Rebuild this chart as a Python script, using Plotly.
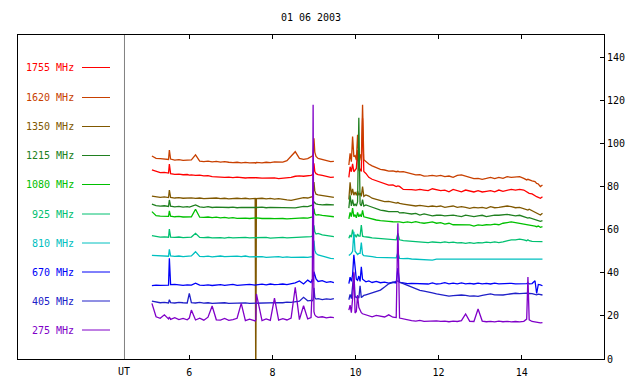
import plotly.graph_objects as go

FONT = "DejaVu Sans Mono"

title_text = "01 06 2003"
x_ticks = [6, 8, 10, 12, 14]
y_ticks = [0, 20, 40, 60, 80, 100, 120, 140]
ut_time = 4.44

labels = ["1755 MHz", "1620 MHz", "1350 MHz", "1215 MHz", "1080 MHz",
          "925 MHz", "810 MHz", "670 MHz", "405 MHz", "275 MHz"]
colors = ["#FF0000", "#C84000", "#805800", "#208020", "#00C000",
          "#00C070", "#00C0C0", "#0000F8", "#2020C8", "#8000C8"]

# time (UT hours), two observing segments
t1 = [5.10, 5.20, 5.30, 5.40, 5.50, 5.52, 5.55, 5.65, 5.75, 5.85,
      5.95, 6.00, 6.05, 6.15, 6.25, 6.35, 6.45, 6.55, 6.65, 6.75,
      6.85, 6.95, 7.05, 7.15, 7.25, 7.35, 7.45, 7.585, 7.60, 7.615,
      7.75, 7.85, 7.95, 8.05, 8.15, 8.25, 8.35, 8.45, 8.55, 8.65,
      8.75, 8.85, 8.93, 8.96, 8.98, 9.00, 9.02, 9.05, 9.10, 9.20,
      9.30, 9.40, 9.48]
t2 = [9.84, 9.87, 9.90, 9.93, 9.96, 9.99, 10.02, 10.05, 10.08, 10.11,
      10.14, 10.17, 10.20, 10.25, 10.32, 10.40, 10.50, 10.60, 10.70, 10.80,
      10.90, 10.98, 11.02, 11.06, 11.15, 11.25, 11.35, 11.45, 11.55, 11.65,
      11.75, 11.85, 11.95, 12.05, 12.15, 12.25, 12.35, 12.45, 12.55, 12.65,
      12.75, 12.85, 12.95, 13.05, 13.15, 13.25, 13.35, 13.45, 13.55, 13.65,
      13.75, 13.85, 13.95, 14.05, 14.12, 14.15, 14.18, 14.25, 14.32, 14.36,
      14.40, 14.45, 14.50]

f1755_a = [87.8, 87.0, 86.5, 86.6, 86.3, 90.5, 86.0, 85.7, 85.8, 85.5,
           85.6, 85.3, 85.4, 85.2, 85.3, 85.0, 85.1, 84.6, 84.4, 84.5,
           84.3, 84.4, 84.2, 84.4, 84.1, 84.0, 84.2, 83.9, 84.0, 84.1,
           83.9, 84.0, 83.8, 84.0, 83.7, 83.9, 83.8, 84.3, 84.8, 85.0,
           84.8, 84.9, 85.2, 85.5, 86.0, 90.8, 87.0, 86.0, 85.6, 85.2,
           84.6, 84.3, 84.4]
f1755_b = [84.3, 89.2, 86.9, 90.5, 86.9, 87.7, 88.4, 97.0, 87.5, 88.0,
           87.0, 111.7, 87.0, 86.1, 84.3, 83.4, 82.7, 81.8, 81.2, 80.7,
           80.8, 80.0, 80.3, 80.1, 78.7, 78.8, 78.6, 78.4, 78.7, 78.4,
           78.1, 79.0, 78.4, 78.1, 78.4, 77.6, 78.7, 78.1, 77.6, 78.4,
           77.8, 77.5, 78.1, 77.5, 77.8, 78.1, 77.6, 78.4, 77.8, 78.4,
           78.7, 78.4, 78.7, 78.4, 77.6, 77.2, 76.9, 76.6, 75.6, 75.3,
           75.0, 74.6, 75.3]

f1620_a = [94.2, 93.1, 93.0, 92.8, 92.6, 97.0, 92.8, 92.3, 92.5, 92.2,
           92.3, 92.1, 92.4, 94.7, 91.8, 91.6, 91.8, 91.5, 91.7, 91.4,
           91.6, 91.3, 91.1, 91.3, 91.0, 91.2, 91.0, 91.1, 90.9, 91.2,
           91.0, 91.3, 91.1, 91.5, 91.6, 91.4, 92.0, 94.2, 96.2, 93.1,
           92.6, 93.0, 93.8, 94.2, 95.0, 102.4, 96.0, 94.0, 93.1, 92.5,
           92.0, 91.6, 91.7]
f1620_b = [90.0, 95.4, 91.6, 103.2, 93.9, 94.4, 92.3, 104.0, 94.0, 95.0,
           92.0, 118.0, 92.5, 91.6, 90.5, 89.6, 88.9, 88.0, 87.7, 87.2,
           87.3, 86.9, 87.1, 86.8, 86.9, 86.5, 85.8, 85.4, 85.5, 84.9,
           85.0, 85.2, 84.9, 85.2, 84.6, 84.9, 84.3, 85.2, 85.4, 84.9,
           84.3, 83.7, 83.8, 83.4, 83.8, 84.3, 83.7, 84.3, 83.8, 84.6,
           84.3, 84.3, 84.6, 83.8, 83.1, 83.4, 83.1, 82.7, 82.3, 81.5,
           81.2, 80.0, 80.7]

f1350_a = [75.6, 75.3, 75.0, 75.2, 74.9, 78.4, 75.0, 74.7, 74.9, 74.6,
           74.8, 74.6, 74.8, 74.5, 74.7, 74.4, 74.6, 74.5, 74.7, 74.4,
           74.6, 74.3, 74.5, 74.6, 74.4, 74.6, 74.3, 74.5, -15.0, 74.4,
           74.6, 74.3, 74.5, 74.2, 74.4, 74.0, 73.8, 73.6, 74.0, 74.6,
           74.9, 74.7, 75.0, 75.3, 76.0, 82.1, 78.0, 76.5, 76.2, 75.8,
           75.5, 75.2, 75.0]
f1350_b = [74.0, 82.0, 76.0, 79.0, 76.0, 77.5, 76.0, 78.0, 76.0, 77.0,
           75.5, 80.0, 75.5, 76.1, 75.6, 74.6, 74.1, 73.5, 73.0, 73.1,
           72.5, 72.3, 72.6, 72.2, 71.9, 71.5, 71.4, 71.0, 71.3, 71.0,
           70.7, 71.0, 70.7, 71.0, 70.4, 70.7, 71.0, 70.4, 70.7, 70.4,
           69.9, 70.4, 70.1, 70.4, 69.9, 70.7, 70.2, 70.4, 70.7, 71.0,
           70.7, 70.2, 70.4, 69.9, 69.5, 69.1, 69.5, 68.8, 68.4, 67.9,
           67.6, 66.8, 67.6]

f1215_a = [71.9, 71.2, 70.9, 71.1, 70.8, 73.8, 70.9, 70.6, 70.8, 70.5,
           70.7, 70.5, 70.8, 71.5, 70.6, 70.4, 70.7, 70.3, 70.5, 70.4,
           70.6, 70.3, 70.5, 70.2, 70.4, 70.3, 70.5, 70.2, 70.4, 70.3,
           70.5, 70.2, 70.4, 70.3, 70.5, 70.2, 70.0, 69.9, 70.1, 70.5,
           70.8, 70.7, 71.0, 71.2, 71.5, 73.0, 72.5, 72.0, 71.8, 71.5,
           71.7, 71.4, 71.5]
f1215_b = [70.0, 76.0, 71.0, 74.0, 71.0, 72.0, 71.0, 73.0, 112.0, 72.0,
           71.0, 74.0, 71.0, 71.5, 71.0, 70.4, 69.5, 69.1, 68.8, 68.4,
           68.4, 68.2, 68.4, 67.8, 67.9, 67.6, 67.3, 67.6, 66.8, 67.3,
           66.8, 66.4, 66.7, 66.8, 66.4, 66.7, 66.8, 66.4, 66.1, 66.8,
           66.4, 66.1, 66.4, 66.7, 66.1, 66.4, 66.8, 66.7, 67.0, 67.1,
           66.8, 66.4, 66.7, 66.1, 65.7, 65.4, 65.6, 65.1, 64.8, 64.5,
           64.2, 63.9, 64.2]

f1080_a = [68.4, 66.5, 66.3, 66.4, 66.2, 68.7, 66.3, 66.0, 66.2, 65.9,
           66.1, 65.9, 66.0, 69.5, 65.8, 65.7, 65.9, 65.6, 65.8, 65.5,
           65.7, 65.4, 65.6, 65.3, 65.5, 65.4, 65.2, 65.4, 65.3, 65.5,
           65.2, 65.4, 65.3, 65.1, 65.3, 65.2, 65.0, 65.2, 65.4, 65.3,
           65.5, 65.4, 65.6, 65.8, 66.0, 69.8, 67.5, 66.8, 67.0, 66.6,
           66.3, 66.1, 66.0]
f1080_b = [65.0, 68.0, 66.0, 70.0, 66.0, 67.0, 65.5, 68.0, 66.0, 67.0,
           66.0, 69.0, 66.0, 65.7, 65.4, 65.1, 64.5, 64.2, 64.2, 63.9,
           63.7, 63.6, 63.9, 63.6, 63.3, 63.6, 63.3, 63.7, 63.3, 63.0,
           63.3, 63.6, 63.0, 63.3, 62.6, 63.0, 62.3, 62.2, 62.3, 62.0,
           62.2, 61.7, 62.2, 62.0, 62.3, 62.2, 62.6, 62.3, 63.0, 63.3,
           63.6, 63.3, 63.0, 62.6, 62.3, 62.5, 62.2, 62.0, 61.7, 61.4,
           61.7, 61.1, 61.4]

f925_a = [57.2, 56.8, 56.6, 56.7, 56.5, 60.3, 56.6, 56.4, 56.6, 56.3,
          56.5, 56.4, 56.6, 58.3, 56.4, 56.3, 56.5, 56.2, 56.4, 56.3,
          56.1, 56.4, 56.2, 56.3, 56.1, 56.4, 56.2, 56.3, 56.1, 56.3,
          56.2, 56.4, 56.1, 56.3, 56.2, 56.4, 56.2, 56.3, 56.5, 56.4,
          56.6, 56.5, 56.8, 57.0, 57.5, 62.0, 59.0, 58.0, 58.3, 57.6,
          57.2, 56.9, 56.8]
f925_b = [56.0, 57.5, 56.5, 60.0, 57.0, 57.5, 56.5, 58.0, 57.0, 57.0,
          62.2, 57.0, 56.8, 56.8, 56.5, 56.2, 56.0, 55.9, 55.6, 55.6,
          55.3, 55.3, 58.3, 55.3, 54.9, 54.8, 54.5, 54.6, 54.5, 54.3,
          54.0, 54.3, 54.2, 54.0, 54.3, 54.0, 54.2, 53.9, 54.0, 53.7,
          54.0, 53.7, 54.0, 53.9, 54.2, 54.0, 54.3, 54.0, 54.3, 54.9,
          55.3, 55.3, 55.6, 55.3, 54.9, 55.3, 54.9, 54.6, 54.5, 54.6,
          54.5, 54.3, 54.5]

f810_a = [48.1, 48.0, 47.8, 47.9, 47.7, 50.9, 47.8, 47.6, 47.8, 47.5,
          47.7, 47.6, 47.8, 49.8, 47.6, 47.5, 47.7, 47.4, 47.6, 47.8,
          47.5, 47.6, 47.4, 47.7, 47.5, 47.8, 47.4, 47.6, 47.5, 47.3,
          47.5, 47.2, 47.4, 47.3, 47.5, 47.2, 47.4, 47.2, 47.3, 47.1,
          47.3, 47.2, 47.4, 47.5, 48.0, 55.0, 50.5, 49.0, 48.3, 47.8,
          47.0, 46.7, 46.6]
f810_b = [48.0, 48.5, 49.0, 50.0, 59.0, 50.0, 49.0, 48.5, 49.0, 49.0,
          54.0, 48.5, 48.0, 47.8, 47.5, 47.5, 47.2, 47.2, 47.0, 46.9,
          46.9, 46.9, 49.5, 46.7, 46.6, 46.7, 46.4, 46.3, 46.4, 46.3,
          46.3, 45.9, 46.3, 46.3, 46.4, 46.3, 46.1, 46.3, 46.4, 46.3,
          46.1, 46.3, 46.4, 46.3, 46.1, 46.3, 46.4, 46.3, 46.3, 46.4,
          46.3, 46.1, 46.3, 46.4, 46.3, 46.3, 46.4, 46.3, 46.3, 46.3,
          46.4, 46.3, 46.3]

f670_a = [34.0, 34.3, 34.2, 34.4, 34.3, 46.7, 34.5, 34.6, 34.3, 34.2,
          34.4, 34.2, 34.3, 35.2, 34.3, 34.2, 34.4, 34.1, 34.3, 34.5,
          34.2, 34.3, 34.6, 34.2, 34.4, 34.3, 34.6, 34.3, 34.5, 34.4,
          34.7, 34.4, 34.8, 34.5, 34.6, 34.8, 34.5, 34.9, 35.3, 36.2,
          34.8, 36.6, 35.5, 37.0, 36.0, 40.5, 38.5, 37.2, 36.0, 36.4,
          35.6, 35.9, 35.4]
f670_b = [35.0, 38.0, 36.0, 39.0, 48.3, 41.0, 37.0, 36.5, 38.5, 36.0,
          42.8, 37.0, 36.5, 35.8, 36.2, 35.5, 36.0, 35.4, 35.7, 35.2,
          35.6, 35.3, 42.2, 35.5, 35.3, 35.0, 35.1, 35.0, 34.9, 35.1,
          34.8, 35.3, 34.8, 35.0, 35.4, 34.9, 35.2, 34.9, 35.3, 34.9,
          35.1, 34.8, 35.2, 34.9, 35.1, 34.8, 35.2, 34.9, 35.0, 34.8,
          35.1, 34.9, 35.0, 34.8, 35.0, 35.3, 34.9, 35.0, 36.3, 30.4,
          34.6, 34.4, 34.0]

f405_a = [26.9, 26.6, 26.1, 26.3, 26.0, 27.5, 26.2, 26.0, 26.3, 26.1,
          26.0, 30.5, 26.2, 26.0, 26.3, 25.9, 26.1, 25.8, 26.0, 25.9,
          26.1, 25.8, 25.9, 25.7, 25.9, 26.0, 25.8, 25.9, 25.8, 26.0,
          25.8, 26.1, 25.9, 26.0, 26.2, 26.1, 26.4, 26.3, 26.6, 26.8,
          28.6, 27.0, 27.2, 27.0, 27.5, 33.0, 28.5, 27.8, 28.0, 27.6,
          27.9, 27.7, 28.0]
f405_b = [27.5, 30.0, 28.0, 33.0, 39.8, 29.0, 28.5, 29.0, 28.2, 34.0,
          28.5, 29.0, 29.5, 29.8, 30.2, 30.8, 31.4, 32.0, 33.4, 34.9,
          35.6, 35.9, 36.2, 35.7, 35.0, 34.0, 33.1, 32.3, 31.8, 31.5,
          31.2, 30.7, 30.2, 29.8, 29.3, 29.2, 29.4, 29.6, 29.7, 29.5,
          29.2, 29.3, 29.1, 29.5, 29.9, 30.2, 29.8, 29.6, 29.7, 30.0,
          30.2, 30.5, 30.3, 30.4, 30.6, 30.2, 30.4, 30.3, 30.0, 29.8,
          30.1, 29.9, 29.7]

f275_a = [25.8, 19.6, 18.9, 20.5, 18.6, 19.5, 18.4, 19.2, 18.3, 18.8,
          18.2, 19.0, 22.7, 18.1, 18.9, 18.0, 19.4, 24.6, 18.2, 18.0,
          18.8, 17.9, 18.3, 18.9, 25.8, 17.8, 18.5, 17.7, 18.2, 30.2,
          17.8, 18.6, 17.9, 28.2, 18.0, 18.7, 18.1, 19.0, 33.3, 18.3,
          24.7, 18.6, 19.2, 33.9, 118.0, 22.0, 20.5, 19.8, 19.3, 19.6,
          19.1, 19.4, 19.2]
f275_b = [22.7, 25.0, 21.5, 28.0, 40.5, 21.3, 22.0, 29.7, 24.0, 22.5,
          21.5, 21.0, 20.8, 20.4, 19.9, 19.6, 20.2, 19.8, 19.5, 20.5,
          19.4, 19.2, 63.0, 19.0, 18.6, 18.1, 17.8, 17.6, 17.9, 17.5,
          17.6, 17.4, 17.7, 17.5, 17.6, 17.3, 17.6, 17.4, 17.8, 20.9,
          17.5, 17.4, 23.2, 17.6, 17.3, 17.5, 17.2, 17.6, 17.3, 17.5,
          17.2, 17.4, 17.2, 17.5, 18.5, 38.0, 18.2, 17.4, 17.1, 16.9,
          17.0, 16.8, 16.9]

seg_a = [f1755_a, f1620_a, f1350_a, f1215_a, f1080_a, f925_a, f810_a, f670_a, f405_a, f275_a]
seg_b = [f1755_b, f1620_b, f1350_b, f1215_b, f1080_b, f925_b, f810_b, f670_b, f405_b, f275_b]

# ---- layout geometry ----
# The page body has an 8px default margin, so the figure is drawn 8px in
# from the window's top-left corner; sizes below are chosen for that.
OFF = 8
W, H = 640 - OFF, 384 - OFF
PL, PR, PT, PB = 18, 604, 35, 359  # plot box in window pixels


def px_x(p):
    return (p - PL) / (PR - PL)


def px_y(p):
    return (PB - p) / (PB - PT)


legend_y_px = [67.5, 97.5, 126.5, 155.5, 184.5, 214, 243, 272, 301, 330]

fig = go.Figure()
for lab, col, a, b in zip(labels, colors, seg_a, seg_b):
    assert len(a) == len(t1) and len(b) == len(t2), lab
    fig.add_trace(go.Scatter(
        x=t1 + [None] + t2, y=a + [None] + b, mode="lines", name=lab,
        line=dict(color=col, width=1.3), showlegend=False, hoverinfo="skip",
        connectgaps=False))

for lab, col, yp in zip(labels, colors, legend_y_px):
    fig.add_annotation(x=px_x(76), y=px_y(yp), xref="paper", yref="paper",
                       text=lab, showarrow=False, xanchor="right", yanchor="middle",
                       font=dict(family=FONT, size=10, color=col))
    fig.add_shape(type="line", xref="paper", yref="paper",
                  x0=px_x(82), x1=px_x(110), y0=px_y(yp), y1=px_y(yp),
                  line=dict(color=col, width=1))

fig.add_shape(type="line", xref="x", yref="paper", x0=ut_time, x1=ut_time,
              y0=0, y1=1, line=dict(color="#808080", width=1))
fig.add_annotation(x=ut_time, y=0, xref="x", yref="paper", text="UT",
                   showarrow=False, yanchor="top", yshift=-5,
                   font=dict(family=FONT, size=10, color="black"))

x_lo = 6 - (189.3 - PL) / 41.55
x_hi = 14 + (PR - 521.7) / 41.55
y_hi = (PB - PT) / 2.155

fig.update_layout(
    width=W, height=H,
    margin=dict(l=PL - OFF, r=640 - PR, t=PT - OFF, b=384 - PB, pad=0),
    paper_bgcolor="white", plot_bgcolor="white",
    font=dict(family=FONT, size=10, color="black"),
    title=dict(text=title_text, x=0.5, xref="paper", xanchor="center",
               y=1 - (17 - OFF) / H, yref="container", yanchor="middle",
               font=dict(family=FONT, size=10, color="black")),
    xaxis=dict(range=[x_lo, x_hi], tickvals=x_ticks, ticks="inside", ticklen=4,
               tickcolor="black", showline=True, linecolor="black", linewidth=1,
               mirror="ticks", showgrid=False, zeroline=False, automargin=False,
               ticklabelstandoff=4,
               tickfont=dict(family=FONT, size=10, color="black")),
    yaxis=dict(range=[0, y_hi], side="right", tickvals=y_ticks, ticks="inside",
               ticklen=4, tickcolor="black", showline=True, linecolor="black",
               linewidth=1, mirror=True, showgrid=False, zeroline=False,
               automargin=False,
               tickfont=dict(family=FONT, size=10, color="black")),
)

fig.write_html("out.html")
